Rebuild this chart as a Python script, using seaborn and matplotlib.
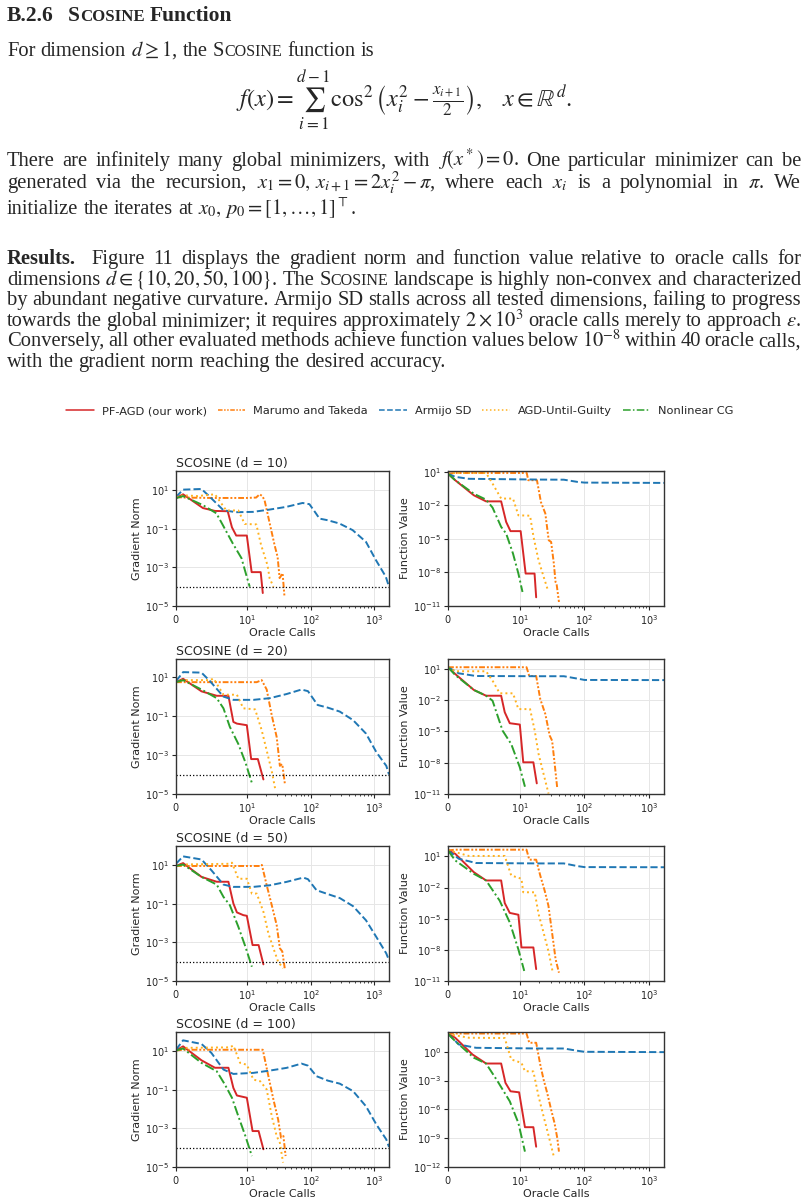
import pandas as pd
import matplotlib
matplotlib.use("Agg")
import matplotlib.pyplot as plt
from matplotlib.lines import Line2D
from matplotlib.ticker import FixedLocator, NullLocator
import seaborn as sns

# ---- methods / styles ----
METHODS = ["PF-AGD (our work)", "Marumo and Takeda", "Armijo SD", "AGD-Until-Guilty", "Nonlinear CG"]
COLORS = ["#d62728", "#ff7f0e", "#1f77b4", "#ffb21f", "#2ca02c"]
DASHES = ["", (3, 1, 1, 1, 1, 1), (3.7, 1.6), (1, 1.6), (5, 1.5, 1, 1.5)]
DIMS = [10, 20, 50, 100]
EPS = 1e-4

# ---- gradient norm, [oracle calls, value] ----
grad10_pf = [[0, 3.9], [1, 6.2], [3.8, 1.2], [5.5, 0.85], [7.3, 0.82], [7.9, 0.12], [8.5, 0.045], [10, 0.045], [11.9, 5.7e-4], [16.5, 5.7e-4], [17.8, 4.7e-5]]
grad10_mt = [[0, 4.5], [1, 4.2], [5, 4.0], [10, 4.0], [14, 4.2], [15.9, 6.2], [17.5, 5.0], [19, 3.0], [22.8, 0.2], [27.3, 0.014], [30.4, 3.5e-3], [32.7, 2.8e-4], [36.4, 5e-4], [39, 3e-5]]
grad10_sd = [[0, 4.5], [1, 10.8], [3.6, 11.7], [4.8, 4.5], [6.7, 0.92], [8.5, 0.73], [12.5, 0.76], [22.8, 1.0], [41.6, 1.38], [75, 2.2], [96, 1.9], [122, 0.62], [138, 0.34], [186, 0.28], [283, 0.19], [457, 0.086], [741, 0.021], [1060, 2.4e-3], [1515, 3.3e-4], [1700, 1e-4]]
grad10_ug = [[0, 4.5], [1, 5.5], [3, 5.0], [5.5, 6.2], [7.1, 0.9], [8.8, 0.9], [9.7, 0.18], [14.1, 0.17], [16.7, 0.015], [21.1, 1.3e-3], [22.8, 2.7e-4], [26.2, 1e-4]]
grad10_cg = [[0, 3.9], [1, 5.0], [3.8, 1.7], [5.7, 0.64], [6.6, 0.16], [8.0, 0.018], [9.25, 3e-3], [10, 3.2e-4], [11.1, 1e-4]]

grad20_pf = [[0, 5.5], [1, 8.2], [3.6, 1.86], [5.75, 1.1], [7.4, 1.1], [8.1, 0.05], [8.6, 0.041], [10, 0.034], [11.7, 6.2e-4], [14.9, 6.2e-4], [18.2, 5.6e-5]]
grad20_mt = [[0, 5.5], [1, 5.5], [14.3, 5.5], [17.1, 7], [20.5, 2.3], [24.6, 0.11], [29.4, 8.4e-3], [33, 2.8e-4], [36, 3.4e-4], [39.7, 3e-5]]
grad20_sd = [[0, 6.2], [1, 18], [3.6, 17], [4.8, 6.2], [6.7, 1.0], [8.1, 0.68], [12.7, 0.68], [23, 0.83], [42, 1.35], [72, 2.3], [91, 1.9], [129, 0.37], [187, 0.27], [287, 0.17], [464, 0.062], [741, 0.0126], [1077, 1.4e-3], [1540, 2.8e-4], [1700, 1e-4]]
grad20_ug = [[0, 5.5], [1, 7], [4.8, 7], [5.3, 8.5], [6.7, 1.25], [8.6, 1.25], [9.5, 0.25], [13.5, 0.22], [17.1, 0.019], [20.5, 1.7e-3], [24.6, 1.5e-4], [27.7, 2e-5]]
grad20_cg = [[0, 5.5], [1, 7], [3.6, 2.3], [5.75, 0.83], [6.7, 0.25], [7.6, 0.028], [8.8, 3.7e-3], [9.8, 4.2e-4], [12, 3.7e-5]]

grad50_pf = [[0, 9.2], [1, 13], [3.6, 2.5], [5.75, 1.4], [7.4, 1.4], [8.1, 0.105], [8.6, 0.036], [9.5, 0.026], [10, 0.024], [12.3, 7.3e-4], [15.3, 7.3e-4], [18.2, 7.3e-5]]
grad50_mt = [[0, 9.2], [1, 9.2], [16.2, 9.2], [17.2, 10.5], [20.5, 0.93], [24.6, 0.086], [29.4, 7.9e-3], [33, 5e-4], [36, 3.4e-4], [39.7, 3.7e-5]]
grad50_sd = [[0, 12], [1, 29], [3.6, 20], [5, 5.5], [6.7, 1.0], [8.1, 0.76], [12.7, 0.76], [23, 0.92], [42, 1.38], [77, 2.3], [91, 1.9], [124, 0.51], [187, 0.32], [287, 0.2], [464, 0.076], [741, 0.014], [1077, 1.9e-3], [1540, 2.7e-4], [1700, 1.2e-4]]
grad50_ug = [[0, 9.2], [1, 11], [7.6, 12], [7.9, 13.7], [8.8, 2.0], [10, 2.0], [12, 0.34], [14.3, 0.34], [18.2, 0.039], [21.8, 2.9e-3], [26.1, 5e-4], [31, 1e-4], [37, 4.6e-5]]
grad50_cg = [[0, 9.2], [1, 11], [3.6, 2.5], [5.75, 1.0], [6.7, 0.23], [7.6, 0.086], [8.8, 6.5e-3], [9.8, 6e-4], [12, 5.5e-5]]

grad100_pf = [[0, 11], [1, 18], [3.6, 3.4], [5.5, 1.4], [7.4, 1.4], [8.1, 0.126], [8.6, 0.051], [10, 0.039], [12.3, 7.3e-4], [15.3, 7.3e-4], [18.2, 8.3e-5]]
grad100_mt = [[0, 11], [1, 12], [17.8, 12], [21.8, 0.51], [26.1, 0.032], [31, 2.9e-3], [34.4, 3.3e-4], [37.5, 4e-4], [40.6, 3.7e-5]]
grad100_sd = [[0, 12], [1, 37], [3.6, 24], [5, 8.2], [6.7, 1.13], [8.1, 0.67], [12.7, 0.76], [23, 1.0], [42, 1.38], [72, 2.3], [91, 1.8], [124, 0.51], [187, 0.3], [287, 0.21], [464, 0.086], [741, 0.014], [1077, 1.6e-3], [1540, 2.7e-4], [1700, 1.1e-4]]
grad100_ug = [[0, 11], [1, 15], [7.6, 16], [8.1, 20], [9.05, 2.5], [10, 2.0], [12.7, 0.34], [16.2, 0.28], [20.5, 0.105], [24.6, 4.4e-3], [29.4, 4e-4], [33, 1.8e-4], [37, 1.7e-5]]
grad100_cg = [[0, 11], [1, 14], [3.6, 2.5], [5.75, 0.92], [6.9, 0.19], [7.9, 0.039], [8.8, 4.3e-3], [9.8, 4e-4], [12, 3.7e-5]]

# ---- function value, [oracle calls, value] ----
func10_pf = [[0, 6.9], [1, 1.8], [3.6, 0.08], [5.3, 0.023], [7.4, 0.023], [8.1, 3.3e-4], [8.7, 5e-5], [10.3, 5e-5], [12.3, 8e-9], [16.9, 8e-9], [17.9, 6e-11]]
func10_mt = [[0, 6.9], [1, 8], [12.8, 8], [13.5, 1.8], [18.4, 1.8], [21.2, 0.02], [24.8, 1.9e-3], [28, 7.6e-6], [30.5, 5.4e-6], [33.6, 6.2e-8], [35.7, 1.4e-9], [37, 1e-9], [40.3, 2.3e-11]]
func10_sd = [[0, 6.9], [1, 3.6], [2.9, 2.4], [20, 2.05], [48, 2.0], [78, 1.27], [100, 1.1], [1700, 1.03]]
func10_ug = [[0, 6.9], [1, 8], [5.3, 8], [6.2, 0.9], [7.4, 0.041], [9.05, 0.041], [9.8, 1.3e-3], [14.4, 1.2e-3], [16.3, 1.5e-5], [19.5, 1.2e-7], [23.4, 4e-9], [27, 2.9e-10]]
func10_cg = [[0, 6.9], [1, 1.8], [3.6, 0.11], [5.3, 0.033], [6.2, 6.4e-3], [7.4, 1.2e-4], [8.1, 3e-5], [9.05, 4.9e-7], [9.8, 8e-9], [11, 1.8e-10]]

func20_pf = [[0, 14.6], [1, 3.3], [3.6, 0.096], [5.3, 0.027], [7.4, 0.027], [7.9, 7e-4], [8.6, 6.2e-5], [10, 4.6e-5], [11.3, 1.1e-8], [16.2, 1.1e-8], [18.3, 1.05e-10]]
func20_mt = [[0, 14.6], [12.7, 14.6], [14, 2.1], [17.9, 2.1], [20.7, 0.013], [24.8, 4.7e-4], [29, 4e-6], [31.6, 1.3e-6], [34.4, 1.1e-8], [37.8, 4.4e-11]]
func20_sd = [[0, 14.6], [1.5, 3.8], [3.9, 2.1], [20, 2.0], [48, 2.0], [83, 1.1], [100, 0.88], [1700, 0.85]]
func20_ug = [[0, 14.6], [1, 6], [5.3, 6], [6.2, 0.76], [7.2, 0.046], [9.05, 0.046], [9.8, 1.4e-3], [14.4, 1.4e-3], [17, 1.2e-5], [19.5, 7e-8], [23.3, 8.4e-10], [27.8, 1.1e-11]]
func20_cg = [[0, 14.6], [1, 2.65], [3.6, 0.096], [5.3, 0.027], [6.2, 9e-3], [7.6, 1.2e-5], [8.8, 6.3e-7], [10, 3.6e-9], [12, 5e-11]]

func50_pf = [[0, 37.7], [1, 18], [3.6, 0.3], [5.3, 0.048], [7.4, 0.048], [7.9, 3.2e-4], [8.6, 3.6e-5], [9.8, 2.4e-5], [10.6, 1.7e-8], [16.2, 1.7e-8], [17.9, 1.4e-10]]
func50_mt = [[0, 37.7], [1, 44], [12.7, 44], [14, 4.8], [17.9, 4.8], [20.7, 0.145], [24.2, 5.1e-3], [27.7, 1.8e-4], [30.5, 2.1e-6], [33.6, 2.4e-8], [35.7, 1.3e-9], [40.3, 6.3e-11]]
func50_sd = [[0, 37.7], [1.5, 5.9], [3.9, 2.3], [20, 2.1], [48, 2.1], [78, 1.16], [100, 0.93], [1700, 0.9]]
func50_ug = [[0, 37.7], [1, 26], [2.9, 11], [7.9, 11], [8.8, 0.145], [10.6, 0.07], [11.3, 3.5e-3], [17, 3.5e-3], [19.5, 2.8e-5], [23.3, 4.6e-7], [28, 5.7e-9], [32.4, 6.3e-11]]
func50_cg = [[0, 37.7], [1, 4.1], [3.6, 0.21], [5.3, 0.048], [7.2, 5.4e-4], [8.6, 4.3e-6], [9.8, 1.1e-8], [11.7, 9.3e-11]]

func100_pf = [[0, 76], [1, 29], [3.4, 0.53], [5.3, 0.06], [7.4, 0.06], [8, 5.8e-4], [8.7, 7.7e-5], [9.9, 6e-5], [12, 1.4e-8], [16.2, 1.4e-8], [17.9, 1.3e-10]]
func100_mt = [[0, 76], [1, 80], [12.7, 80], [14, 8.7], [17.9, 8.7], [20.7, 0.047], [23.3, 1.3e-3], [26.5, 5.2e-5], [30.5, 9.4e-7], [34.4, 3.8e-8], [38, 1e-9], [40.3, 4e-11]]
func100_sd = [[0, 76], [1.5, 5.8], [3.9, 2.6], [20, 2.2], [48, 2.2], [78, 1.27], [100, 1.0], [1700, 0.92]]
func100_ug = [[0, 76], [1, 51], [2.9, 29], [7.9, 27], [8.8, 0.16], [10.6, 0.07], [12, 9.5e-3], [16.2, 9e-3], [19.5, 2.3e-5], [23.3, 1.9e-7], [28, 1.6e-9], [33.6, 1.2e-11]]
func100_cg = [[0, 76], [1, 13], [3.6, 0.24], [5.3, 0.06], [6.9, 8.6e-4], [8.6, 7e-6], [9.8, 3.8e-8], [12, 4e-11]]

GRAD = {10: [grad10_pf, grad10_mt, grad10_sd, grad10_ug, grad10_cg],
        20: [grad20_pf, grad20_mt, grad20_sd, grad20_ug, grad20_cg],
        50: [grad50_pf, grad50_mt, grad50_sd, grad50_ug, grad50_cg],
        100: [grad100_pf, grad100_mt, grad100_sd, grad100_ug, grad100_cg]}
FUNC = {10: [func10_pf, func10_mt, func10_sd, func10_ug, func10_cg],
        20: [func20_pf, func20_mt, func20_sd, func20_ug, func20_cg],
        50: [func50_pf, func50_mt, func50_sd, func50_ug, func50_cg],
        100: [func100_pf, func100_mt, func100_sd, func100_ug, func100_cg]}

GRAD_YLIM = {10: (1e-5, 100), 20: (1e-5, 85), 50: (1e-5, 100), 100: (1e-5, 100)}
FUNC_YLIM = {10: (1e-11, 12), 20: (1e-11, 90), 50: (1e-11, 100), 100: (1e-12, 115)}
GRAD_TICKS = [1e-5, 1e-3, 1e-1, 1e1]
FUNC_TICKS = {10: [1e-11, 1e-8, 1e-5, 1e-2, 1e1], 20: [1e-11, 1e-8, 1e-5, 1e-2, 1e1],
              50: [1e-11, 1e-8, 1e-5, 1e-2, 1e1], 100: [1e-12, 1e-9, 1e-6, 1e-3, 1e0]}
XMAX = 1700

# ---- page text ----
HEADING = ["**B.2.6", "**SCOSINE", "**Function"]
INTRO = "For dimension $d\\geq1$, the SCOSINE function is"
FORMULA = (r"$f(x)=\sum_{i=1}^{d-1}\cos^2\left(x_i^2-\frac{x_{i+1}}{2}\right),"
           r"\quad x\in\mathbb{R}^d.$")
PARA1 = ["There are infinitely many global minimizers, with $f(x^*)=0$. One particular minimizer can be",
         "generated via the recursion, $x_1=0,\\,x_{i+1}=2x_i^2-\\pi$, where each $x_i$ is a polynomial in $\\pi$. We",
         "initialize the iterates at $x_0,\\,p_0=[1,\\ldots,1]^\\top$."]
PARA1_Y = [166, 188, 214]
PARA2 = ["**Results. Figure 11 displays the gradient norm and function value relative to oracle calls for",
         "dimensions $d\\in\\{10,20,50,100\\}$. The SCOSINE landscape is highly non-convex and characterized",
         "by abundant negative curvature. Armijo SD stalls across all tested dimensions, failing to progress",
         "towards the global minimizer; it requires approximately $2\\times10^3$ oracle calls merely to approach $\\epsilon$.",
         "Conversely, all other evaluated methods achieve function values below $10^{-8}$ within 40 oracle calls,",
         "with the gradient norm reaching the desired accuracy."]

# ---- style ----
sns.set_theme(style="whitegrid", rc={
    "axes.edgecolor": "0.2", "axes.linewidth": 1.0,
    "grid.color": "0.9", "grid.linewidth": 0.7,
    "xtick.bottom": True, "ytick.left": True,
    "xtick.major.size": 3, "ytick.major.size": 3, "xtick.minor.size": 1.5,
    "xtick.major.width": 0.8, "ytick.major.width": 0.8, "xtick.minor.width": 0.6,
    "xtick.labelsize": 7, "ytick.labelsize": 7,
    "axes.labelsize": 8, "axes.titlesize": 9,
    "xtick.major.pad": 2, "ytick.major.pad": 2,
})
plt.rcParams["font.family"] = ["DejaVu Sans"]

W, H = 808, 1200
fig = plt.figure(figsize=(W / 100, H / 100), dpi=100)
fig.patch.set_facecolor("white")
renderer = fig.canvas.get_renderer()
SERIF = "Liberation Serif"
BODY = 14.8


def pieces_of(word, size):
    bold = word.startswith("**")
    w = word.lstrip("*")
    if "SCOSINE" in w:
        pre, post = w.split("SCOSINE")
        out = [(pre + "S", size), ("COSINE", size * 0.78), (post, size)]
    else:
        out = [(w, size)]
    return [(s, sz, bold) for s, sz in out if s]


def draw_line(y, words, size, x0=7, right=None, gap=None, extra_after_bold=0):
    groups = []
    for word in words:
        items = []
        for s, sz, bold in pieces_of(word, size):
            t = fig.text(0, 1 - y / H, s, fontsize=sz, family=SERIF,
                         weight="bold" if bold else "normal", va="baseline",
                         ha="left", math_fontfamily="stix")
            items.append((t, t.get_window_extent(renderer).width))
        groups.append((items, word.startswith("**")))
    total = sum(wd for items, _ in groups for _, wd in items)
    extras = [extra_after_bold if b else 0 for _, b in groups[:-1]]
    if right is not None and len(groups) > 1:
        g = (right - x0 - total - sum(extras)) / (len(groups) - 1)
    else:
        g = gap if gap is not None else size * 100 / 72 * 0.25
    x = x0
    for i, (items, b) in enumerate(groups):
        for t, wd in items:
            t.set_x(x / W)
            x += wd
        if i < len(groups) - 1:
            x += g + extras[i]


draw_line(21, HEADING[:1], 15.5)
draw_line(21, HEADING[1:], 15.5, x0=68)
draw_line(56, INTRO.split(" "), BODY)
fig.text(404 / W, 1 - 100 / H, FORMULA, fontsize=17.5, family=SERIF,
         math_fontfamily="stix", ha="center", va="center")
for i, line in enumerate(PARA1):
    last = i == len(PARA1) - 1
    draw_line(PARA1_Y[i], line.split(" "), BODY, right=None if last else 801)
for i, line in enumerate(PARA2):
    last = i == len(PARA2) - 1
    draw_line(264 + i * 20.6, line.split(" "), BODY, right=None if last else 801,
              extra_after_bold=8)

# ---- data table ----
rows = []
for d in DIMS:
    for kind, table in (("grad", GRAD), ("func", FUNC)):
        for m, series in zip(METHODS, table[d]):
            for order, (x, v) in enumerate(series):
                rows.append({"d": d, "kind": kind, "method": m, "order": order,
                             "calls": x, "value": v})
df = pd.DataFrame(rows)
palette = dict(zip(METHODS, COLORS))
dashes = dict(zip(METHODS, DASHES))

# ---- axes ----
ROW_TOPS = [471, 659, 846, 1032]
AX_H = 135
LEFT_X, LEFT_W = 176, 213
RIGHT_X, RIGHT_W = 448, 216
MINOR_X = [20, 30, 40, 50, 60, 70, 80, 90, 200, 300, 400, 500, 600, 700, 800, 900]

for r, d in enumerate(DIMS):
    bottom = 1 - (ROW_TOPS[r] + AX_H) / H
    for kind, (ax_x, ax_w) in (("grad", (LEFT_X, LEFT_W)), ("func", (RIGHT_X, RIGHT_W))):
        ax = fig.add_axes([ax_x / W, bottom, ax_w / W, AX_H / H])
        sub = df[(df["d"] == d) & (df["kind"] == kind)]
        sns.lineplot(data=sub, x="calls", y="value", hue="method", style="method",
                     hue_order=METHODS, style_order=METHODS, palette=palette,
                     dashes=dashes, estimator=None, sort=False, linewidth=1.4,
                     legend=False, ax=ax)
        ax.set_xscale("symlog", linthresh=10, linscale=1)
        ax.set_yscale("log")
        ax.set_xlim(0, XMAX)
        ax.xaxis.set_major_locator(FixedLocator([0, 10, 100, 1000]))
        ax.xaxis.set_minor_locator(FixedLocator(MINOR_X))
        ax.yaxis.set_minor_locator(NullLocator())
        ax.grid(True, which="major")
        ax.grid(False, which="minor")
        ax.set_xlabel("Oracle Calls", labelpad=1)
        if kind == "grad":
            ax.axhline(EPS, color="black", linestyle=":", linewidth=0.9)
            ax.set_ylim(*GRAD_YLIM[d])
            ax.yaxis.set_major_locator(FixedLocator(GRAD_TICKS))
            ax.set_ylabel("Gradient Norm", labelpad=2)
            ax.set_title(f"SCOSINE (d = {d})", loc="left", pad=3)
        else:
            ax.set_ylim(*FUNC_YLIM[d])
            ax.yaxis.set_major_locator(FixedLocator(FUNC_TICKS[d]))
            ax.set_ylabel("Function Value", labelpad=2)
        for s in ax.spines.values():
            s.set_color("0.2")

handles = [Line2D([], [], color=c, linestyle=(0, ds) if ds else "-", linewidth=1.1)
           for c, ds in zip(COLORS, DASHES)]
fig.legend(handles, METHODS, loc="center", bbox_to_anchor=(400 / W, 1 - 411 / H),
           ncol=5, frameon=False, fontsize=8.2, handlelength=2.4,
           handletextpad=0.7, columnspacing=1.0)

fig.savefig("out.png", dpi=100, facecolor="white")
